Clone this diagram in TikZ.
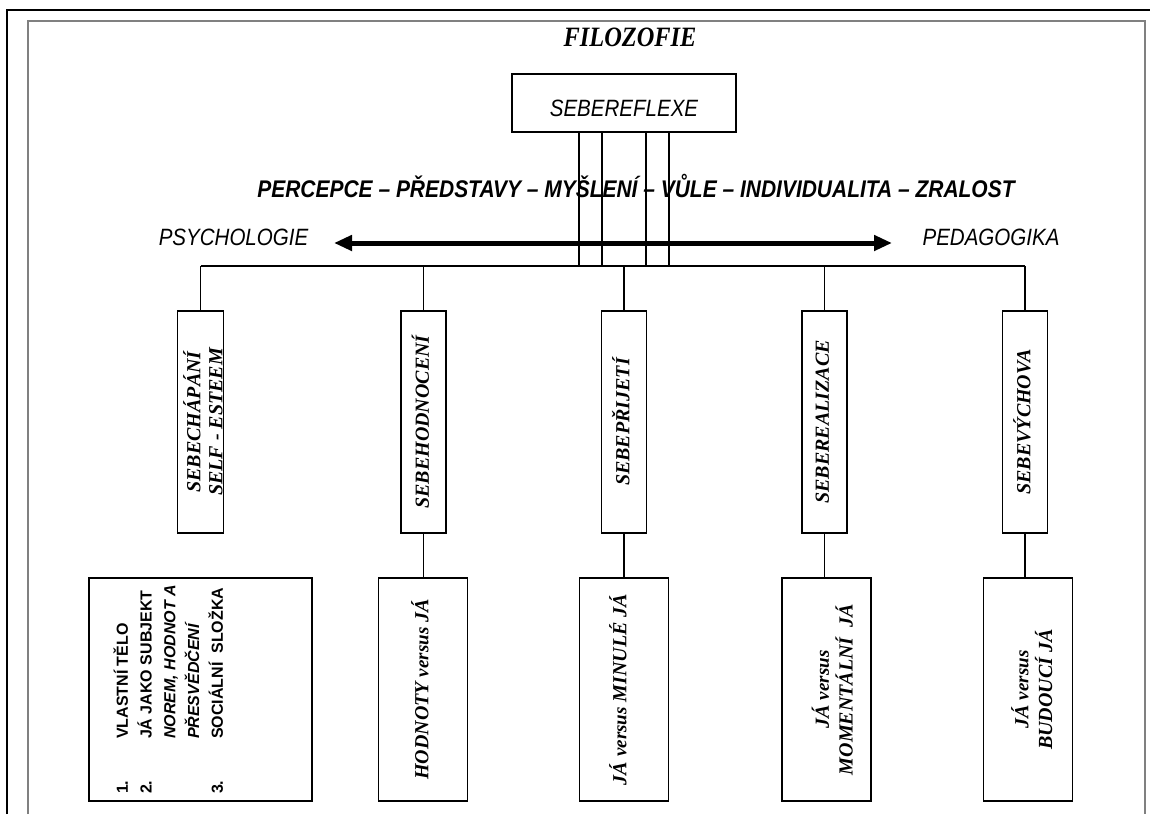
\documentclass[tikz,border=0pt]{standalone}
\usepackage{graphicx}
\usepackage{fontspec}
\usepackage{tikz}
\usetikzlibrary{arrows.meta}
\newfontfamily\arialfont{Liberation Sans}
\newfontfamily\arialnarrow{Liberation Sans}[FakeStretch=0.87]
\newfontfamily\timesfont{Liberation Serif}
\newfontfamily\timesnarrow{Liberation Serif}[FakeStretch=0.87]
\newcommand{\vtxt}[1]{\rotatebox{90}{\begin{tabular}{@{}c@{}}#1\end{tabular}}}
\newcommand{\versus}{{\fontsize{19}{22}\selectfont versus}}

\begin{document}
\begin{tikzpicture}[x=1pt, y=-1pt,
        upbox/.style={draw, line width=1.2pt, minimum width=45pt, minimum height=222pt, inner sep=0pt,
            font=\timesfont\bfseries\itshape\fontsize{20}{22}\selectfont},
        cmpbox/.style={draw, line width=1.2pt, minimum width=89pt, minimum height=223pt, inner sep=0pt,
            font=\timesfont\bfseries\itshape\fontsize{20}{22}\selectfont},
        sanslabel/.style={anchor=base, font=\arialnarrow\itshape\fontsize{23.6}{28}\selectfont},
        link/.style={line width=1.1pt},
        bigarrow/.style={line width=5pt, {Triangle[length=18pt,width=15pt]}-{Triangle[length=18pt,width=15pt]}}]
        \useasboundingbox (0,0) rectangle (1150,814);

        % Frames
        \draw[line width=2.5pt] (7,814) -- (7,10) -- (1150,10);
        \draw[line width=1.5pt, gray] (28,814) -- (28,21) -- (1145,21) -- (1145,814);

        % Nodes
        \node[anchor=base, font=\timesnarrow\bfseries\itshape\fontsize{28}{32}\selectfont] (filo) at (630,46.5) {FILOZOFIE};
        \node[draw, line width=1.2pt, minimum width=224pt, minimum height=58pt, inner sep=0pt,
            text height=27.9pt, text depth=0pt, font=\arialnarrow\itshape\fontsize{23.6}{28}\selectfont] (refl) at (624,103) {SEBEREFLEXE};
        \node[anchor=base, font=\arialnarrow\bfseries\itshape\fontsize{24.1}{28}\selectfont] (stages) at (636,197.5) {PERCEPCE – PŘEDSTAVY – MYŠLENÍ – VŮLE – INDIVIDUALITA – ZRALOST};
        \node[sanslabel] (psy) at (233.5,245.5) {PSYCHOLOGIE};
        \node[sanslabel] (ped) at (991,245.5) {PEDAGOGIKA};

        \node[upbox] (sebe1) at (200.5,422) {\kern5.7pt\vtxt{SEBECHÁPÁNÍ\\SELF - ESTEEM}\kern-5.7pt};
        \node[upbox] (sebe2) at (423.5,422) {\vtxt{SEBEHODNOCENÍ}};
        \node[upbox] (sebe3) at (624,422) {\vtxt{SEBEPŘIJETÍ}};
        \node[upbox] (sebe4) at (824.5,422) {\vtxt{SEBEREALIZACE}};
        \node[upbox] (sebe5) at (1025,422) {\vtxt{SEBEVÝCHOVA}};

        \node[draw, line width=1.2pt, minimum width=223pt, minimum height=223pt, inner sep=0pt,
            font=\arialfont\bfseries\fontsize{16}{23.75}\selectfont] (parts) at (200.5,689.5)
            {\kern-30pt\rotatebox{90}{\begin{tabular}{@{}p{55pt}@{}l@{}}
            1. & VLASTNÍ TĚLO\\
            2. & JÁ JAKO SUBJEKT\\
               & \itshape NOREM, HODNOT A\\
               & \itshape PŘESVĚDČENÍ\\
            3. & SOCIÁLNÍ\ \ SLOŽKA
            \end{tabular}}\kern30pt};
        \node[cmpbox] (cmp2) at (423,689.5) {\vtxt{HODNOTY \versus{} JÁ}};
        \node[cmpbox] (cmp3) at (624,689.5) {\kern-3pt\vtxt{JÁ \versus{} MINULÉ JÁ}\kern3pt};
        \node[cmpbox] (cmp4) at (826.5,689.5) {\kern9pt\vtxt{JÁ \versus\\MOMENTÁLNÍ\ \ JÁ}\kern-9pt};
        \node[cmpbox] (cmp5) at (1028,689.5) {\kern7pt\vtxt{JÁ \versus\\BUDOUCÍ JÁ}\kern-7pt};

        % Edges
        \coordinate (busL) at (200.5,266);
        \coordinate (busR) at (1025,266);
        \coordinate (r1) at (579,266);
        \coordinate (r2) at (602,266);
        \coordinate (r3) at (646,266);
        \coordinate (r4) at (669,266);
        \draw[link] (busL) -- (busR);
        \draw[link] (refl.south -| r1) -- (r1);
        \draw[link] (refl.south -| r2) -- (r2);
        \draw[link] (refl.south -| r3) -- (r3);
        \draw[link] (refl.south -| r4) -- (r4);
        \draw[link] (sebe1.north) -- (sebe1.north |- busL);
        \draw[link] (sebe2.north) -- (sebe2.north |- busL);
        \draw[link] (sebe3.north) -- (sebe3.north |- busL);
        \draw[link] (sebe4.north) -- (sebe4.north |- busL);
        \draw[link] (sebe5.north) -- (sebe5.north |- busL);
        \draw[link] (sebe2.south) -- (sebe2.south |- cmp2.north);
        \draw[link] (sebe3.south) -- (sebe3.south |- cmp3.north);
        \draw[link] (sebe4.south) -- (sebe4.south |- cmp4.north);
        \draw[link] (sebe5.south) -- (sebe5.south |- cmp5.north);

        % Arrow
        \coordinate (aleft) at (334,243);
        \coordinate (aright) at (892,243);
        \draw[bigarrow] (aleft) -- (aright);
    \end{tikzpicture}
\end{document}
